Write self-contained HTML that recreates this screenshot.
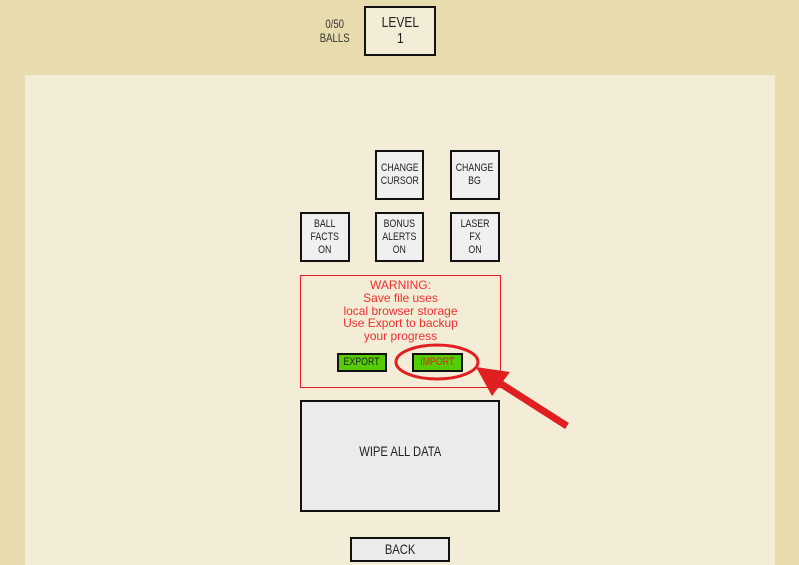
<!DOCTYPE html>
<html><head><style>
body{margin:0;width:799px;height:565px;overflow:hidden;background:#e8dcae;position:relative;font-family:"Liberation Sans",sans-serif}
.a{position:absolute;box-sizing:border-box}
.p{left:25px;top:75px;width:750px;height:490px;background:#f3ecd6}
.b{border:2px solid #111;background:#f0f0f0;display:flex;align-items:center;justify-content:center;text-align:center;font-size:11px;line-height:13px;color:#222}
.b span{display:inline-block;transform:scaleX(0.8)}
</style></head><body>
<div class="a p"></div>
<div class="a" style="left:310px;top:17px;width:50px;text-align:center;font-size:12px;line-height:14px;color:#333"><span style="display:inline-block;transform:scaleX(0.8)">0/50<br>BALLS</span></div>
<div class="a b" style="left:364px;top:6px;width:72px;height:50px;background:#f3ecd6;font-size:15px;line-height:16px"><span>LEVEL<br>1</span></div>
<div class="a b" style="left:375px;top:150px;width:49px;height:50px"><span>CHANGE<br>CURSOR</span></div>
<div class="a b" style="left:450px;top:150px;width:50px;height:50px"><span>CHANGE<br>BG</span></div>
<div class="a b" style="left:300px;top:212px;width:50px;height:50px"><span>BALL<br>FACTS<br>ON</span></div>
<div class="a b" style="left:375px;top:212px;width:49px;height:50px"><span>BONUS<br>ALERTS<br>ON</span></div>
<div class="a b" style="left:450px;top:212px;width:50px;height:50px"><span>LASER<br>FX<br>ON</span></div>
<div class="a" style="left:300px;top:275px;width:201px;height:113px;border:1px solid #e02020"></div>
<div class="a" style="left:300px;top:279px;width:201px;text-align:center;color:#f03030;font-size:12px;line-height:12.8px">WARNING:<br>Save file uses<br>local browser storage<br>Use Export to backup<br>your progress</div>
<div class="a b" style="left:337px;top:353px;width:50px;height:19px;background:#55cc00;font-size:11px"><span>EXPORT</span></div>
<div class="a b" style="left:412px;top:353px;width:51px;height:19px;background:#55cc00;font-size:11px;color:#e02020"><span>IMPORT</span></div>
<div class="a b" style="left:300px;top:400px;width:200px;height:112px;background:#ebebeb;font-size:14px;padding-bottom:10px"><span>WIPE ALL DATA</span></div>
<div class="a b" style="left:350px;top:537px;width:100px;height:25px;background:#ebebeb;font-size:14px"><span>BACK</span></div>
<svg class="a" style="left:0;top:0" width="799" height="565">
<ellipse cx="437" cy="362" rx="41" ry="17" fill="none" stroke="#e02020" stroke-width="3"/>
<line x1="567" y1="426" x2="495" y2="380" stroke="#e02020" stroke-width="7"/>
<polygon points="476,367 510,372 492,396" fill="#e02020"/>
</svg>
</body></html>
